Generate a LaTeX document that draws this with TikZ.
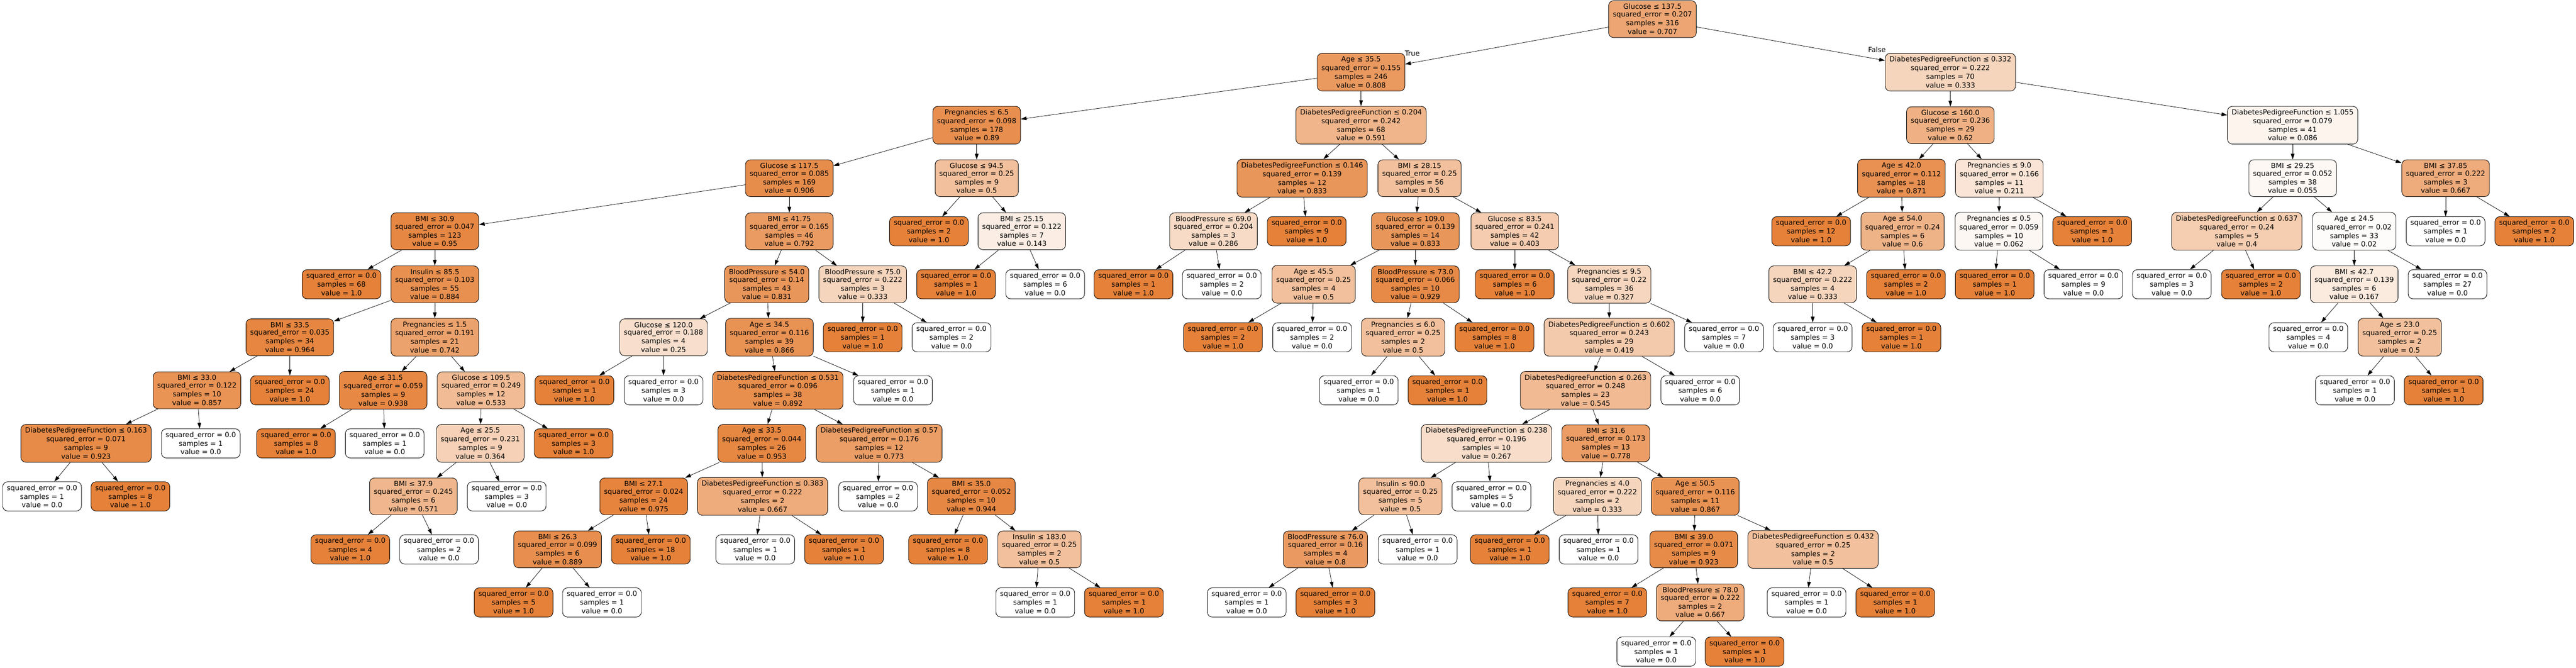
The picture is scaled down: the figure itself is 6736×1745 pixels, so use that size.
\documentclass[tikz,border=0pt]{standalone}
\usepackage{fontspec}
\setmainfont{DejaVu Sans}
\usetikzlibrary{arrows.meta}
\definecolor{tor}{RGB}{229,129,57}
\newcommand\nodeline[1]{\rule[-1.7pt]{0pt}{10pt}#1}
\newcommand\splitbox[5]{\nodeline{#1 ≤ #2}\\\nodeline{squared\_error = #3}\\\nodeline{samples = #4}\\\nodeline{value = #5}}
\newcommand\leafbox[2]{\nodeline{squared\_error = 0.0}\\\nodeline{samples = #1}\\\nodeline{value = #2}}
\newcommand\dpf{DiabetesPedigreeFunction}
\begin{document}
\begin{tikzpicture}[x=0.5pt,y=-0.5pt,
  nd/.style={draw=black,line width=0.6pt,rounded corners=6.5pt,inner xsep=5.5pt,inner ysep=2.75pt,align=center,font=\fontsize{9.17pt}{10pt}\selectfont},
  fv/.style={fill=tor!#1!white},
  edge/.style={line width=0.5pt,-{Triangle[length=7.5pt,width=4.8pt]}},
  lbl/.style={font=\fontsize{9.17pt}{10pt}\selectfont,inner sep=0pt}]
\useasboundingbox[fill=white] (0,0) rectangle (6736,1745);
% rank 0
\node[nd,fv=70.7] (n0) at (4321,50) {\splitbox{Glucose}{137.5}{0.207}{316}{0.707}};
% rank 1
\node[nd,fv=80.8] (n1) at (3559,188.6) {\splitbox{Age}{35.5}{0.155}{246}{0.808}};
\node[nd,fv=33.3] (n2) at (5100,188.6) {\splitbox{\dpf}{0.332}{0.222}{70}{0.333}};
% rank 2
\node[nd,fv=89] (n3) at (2554,327.2) {\splitbox{Pregnancies}{6.5}{0.098}{178}{0.89}};
\node[nd,fv=59.1] (n4) at (3559,327.2) {\splitbox{\dpf}{0.204}{0.242}{68}{0.591}};
\node[nd,fv=62] (n5) at (5100,327.2) {\splitbox{Glucose}{160.0}{0.236}{29}{0.62}};
\node[nd,fv=8.6] (n6) at (5995,327.2) {\splitbox{\dpf}{1.055}{0.079}{41}{0.086}};
% rank 3
\node[nd,fv=90.6] (n7) at (2064,465.8) {\splitbox{Glucose}{117.5}{0.085}{169}{0.906}};
\node[nd,fv=50] (n8) at (2554,465.8) {\splitbox{Glucose}{94.5}{0.25}{9}{0.5}};
\node[nd,fv=83.3] (n9) at (3405,465.8) {\splitbox{\dpf}{0.146}{0.139}{12}{0.833}};
\node[nd,fv=50] (n10) at (3712,465.8) {\splitbox{BMI}{28.15}{0.25}{56}{0.5}};
\node[nd,fv=87.1] (n11) at (4972,465.8) {\splitbox{Age}{42.0}{0.112}{18}{0.871}};
\node[nd,fv=21.1] (n12) at (5228,465.8) {\splitbox{Pregnancies}{9.0}{0.166}{11}{0.211}};
\node[nd,fv=5.5] (n13) at (5995,465.8) {\splitbox{BMI}{29.25}{0.052}{38}{0.055}};
\node[nd,fv=66.7] (n14) at (6395,465.8) {\splitbox{BMI}{37.85}{0.222}{3}{0.667}};
% rank 4
\node[nd,fv=95] (n15) at (1137,604.4) {\splitbox{BMI}{30.9}{0.047}{123}{0.95}};
\node[nd,fv=79.2] (n16) at (2064,604.4) {\splitbox{BMI}{41.75}{0.165}{46}{0.792}};
\node[nd,fv=100] (n17) at (2429,604.4) {\leafbox{2}{1.0}};
\node[nd,fv=14.3] (n18) at (2672,604.4) {\splitbox{BMI}{25.15}{0.122}{7}{0.143}};
\node[nd,fv=28.6] (n19) at (3173,604.4) {\splitbox{BloodPressure}{69.0}{0.204}{3}{0.286}};
\node[nd,fv=100] (n20) at (3417,604.4) {\leafbox{9}{1.0}};
\node[nd,fv=83.3] (n21) at (3701,604.4) {\splitbox{Glucose}{109.0}{0.139}{14}{0.833}};
\node[nd,fv=40.3] (n22) at (3961,604.4) {\splitbox{Glucose}{83.5}{0.241}{42}{0.403}};
\node[nd,fv=100] (n23) at (4736,604.4) {\leafbox{12}{1.0}};
\node[nd,fv=60] (n24) at (4975,604.4) {\splitbox{Age}{54.0}{0.24}{6}{0.6}};
\node[nd,fv=6.2] (n25) at (5227,604.4) {\splitbox{Pregnancies}{0.5}{0.059}{10}{0.062}};
\node[nd,fv=100] (n26) at (5471,604.4) {\leafbox{1}{1.0}};
\node[nd,fv=40] (n27) at (5849,604.4) {\splitbox{\dpf}{0.637}{0.24}{5}{0.4}};
\node[nd,fv=2] (n28) at (6156,604.4) {\splitbox{Age}{24.5}{0.02}{33}{0.02}};
\node[nd,fv=0] (n29) at (6395,604.4) {\leafbox{1}{0.0}};
\node[nd,fv=100] (n30) at (6627,604.4) {\leafbox{2}{1.0}};
% rank 5
\node[nd,fv=100] (n31) at (893,743) {\leafbox{68}{1.0}};
\node[nd,fv=88.4] (n32) at (1137,743) {\splitbox{Insulin}{85.5}{0.103}{55}{0.884}};
\node[nd,fv=83.1] (n33) at (2005,743) {\splitbox{BloodPressure}{54.0}{0.14}{43}{0.831}};
\node[nd,fv=33.3] (n34) at (2256,743) {\splitbox{BloodPressure}{75.0}{0.222}{3}{0.333}};
\node[nd,fv=100] (n35) at (2500,743) {\leafbox{1}{1.0}};
\node[nd,fv=0] (n36) at (2733,743) {\leafbox{6}{0.0}};
\node[nd,fv=100] (n37) at (2964,743) {\leafbox{1}{1.0}};
\node[nd,fv=0] (n38) at (3195,743) {\leafbox{2}{0.0}};
\node[nd,fv=50] (n39) at (3435,743) {\splitbox{Age}{45.5}{0.25}{4}{0.5}};
\node[nd,fv=92.9] (n40) at (3701,743) {\splitbox{BloodPressure}{73.0}{0.066}{10}{0.929}};
\node[nd,fv=100] (n41) at (3961,743) {\leafbox{6}{1.0}};
\node[nd,fv=32.7] (n42) at (4208,743) {\splitbox{Pregnancies}{9.5}{0.22}{36}{0.327}};
\node[nd,fv=33.3] (n43) at (4740,743) {\splitbox{BMI}{42.2}{0.222}{4}{0.333}};
\node[nd,fv=100] (n44) at (4984,743) {\leafbox{2}{1.0}};
\node[nd,fv=100] (n45) at (5216,743) {\leafbox{1}{1.0}};
\node[nd,fv=0] (n46) at (5448,743) {\leafbox{9}{0.0}};
\node[nd,fv=0] (n47) at (5679,743) {\leafbox{3}{0.0}};
\node[nd,fv=100] (n48) at (5912,743) {\leafbox{2}{1.0}};
\node[nd,fv=16.7] (n49) at (6156,743) {\splitbox{BMI}{42.7}{0.139}{6}{0.167}};
\node[nd,fv=0] (n50) at (6400,743) {\leafbox{27}{0.0}};
% rank 6
\node[nd,fv=96.4] (n51) at (758,881.6) {\splitbox{BMI}{33.5}{0.035}{34}{0.964}};
\node[nd,fv=74.2] (n52) at (1137,881.6) {\splitbox{Pregnancies}{1.5}{0.191}{21}{0.742}};
\node[nd,fv=25] (n53) at (1735,881.6) {\splitbox{Glucose}{120.0}{0.188}{4}{0.25}};
\node[nd,fv=86.6] (n54) at (2012,881.6) {\splitbox{Age}{34.5}{0.116}{39}{0.866}};
\node[nd,fv=100] (n55) at (2256,881.6) {\leafbox{1}{1.0}};
\node[nd,fv=0] (n56) at (2488,881.6) {\leafbox{2}{0.0}};
\node[nd,fv=100] (n57) at (3198,881.6) {\leafbox{2}{1.0}};
\node[nd,fv=0] (n58) at (3431,881.6) {\leafbox{2}{0.0}};
\node[nd,fv=50] (n59) at (3669,881.6) {\splitbox{Pregnancies}{6.0}{0.25}{2}{0.5}};
\node[nd,fv=100] (n60) at (3908,881.6) {\leafbox{8}{1.0}};
\node[nd,fv=41.9] (n61) at (4208,881.6) {\splitbox{\dpf}{0.602}{0.243}{29}{0.419}};
\node[nd,fv=0] (n62) at (4508,881.6) {\leafbox{7}{0.0}};
\node[nd,fv=0] (n63) at (4740,881.6) {\leafbox{3}{0.0}};
\node[nd,fv=100] (n64) at (4972,881.6) {\leafbox{1}{1.0}};
\node[nd,fv=0] (n65) at (6036,881.6) {\leafbox{4}{0.0}};
\node[nd,fv=50] (n66) at (6275,881.6) {\splitbox{Age}{23.0}{0.25}{2}{0.5}};
% rank 7
\node[nd,fv=85.7] (n67) at (515,1020.2) {\splitbox{BMI}{33.0}{0.122}{10}{0.857}};
\node[nd,fv=100] (n68) at (758,1020.2) {\leafbox{24}{1.0}};
\node[nd,fv=93.8] (n69) at (1002,1020.2) {\splitbox{Age}{31.5}{0.059}{9}{0.938}};
\node[nd,fv=53.3] (n70) at (1258,1020.2) {\splitbox{Glucose}{109.5}{0.249}{12}{0.533}};
\node[nd,fv=100] (n71) at (1502,1020.2) {\leafbox{1}{1.0}};
\node[nd,fv=0] (n72) at (1735,1020.2) {\leafbox{3}{0.0}};
\node[nd,fv=89.2] (n73) at (2034,1020.2) {\splitbox{\dpf}{0.531}{0.096}{38}{0.892}};
\node[nd,fv=0] (n74) at (2335,1020.2) {\leafbox{1}{0.0}};
\node[nd,fv=0] (n75) at (3553,1020.2) {\leafbox{1}{0.0}};
\node[nd,fv=100] (n76) at (3785,1020.2) {\leafbox{1}{1.0}};
\node[nd,fv=54.5] (n77) at (4146,1020.2) {\splitbox{\dpf}{0.263}{0.248}{23}{0.545}};
\node[nd,fv=0] (n78) at (4446,1020.2) {\leafbox{6}{0.0}};
\node[nd,fv=0] (n79) at (6158,1020.2) {\leafbox{1}{0.0}};
\node[nd,fv=100] (n80) at (6390,1020.2) {\leafbox{1}{1.0}};
% rank 8
\node[nd,fv=92.3] (n81) at (225,1158.8) {\splitbox{\dpf}{0.163}{0.071}{9}{0.923}};
\node[nd,fv=0] (n82) at (525,1158.8) {\leafbox{1}{0.0}};
\node[nd,fv=100] (n83) at (774,1158.8) {\leafbox{8}{1.0}};
\node[nd,fv=0] (n84) at (1006,1158.8) {\leafbox{1}{0.0}};
\node[nd,fv=36.4] (n85) at (1256,1158.8) {\splitbox{Age}{25.5}{0.231}{9}{0.364}};
\node[nd,fv=100] (n86) at (1500,1158.8) {\leafbox{3}{1.0}};
\node[nd,fv=95.3] (n87) at (1992,1158.8) {\splitbox{Age}{33.5}{0.044}{26}{0.953}};
\node[nd,fv=77.3] (n88) at (2299,1158.8) {\splitbox{\dpf}{0.57}{0.176}{12}{0.773}};
\node[nd,fv=26.7] (n89) at (3887,1158.8) {\splitbox{\dpf}{0.238}{0.196}{10}{0.267}};
\node[nd,fv=77.8] (n90) at (4199,1158.8) {\splitbox{BMI}{31.6}{0.173}{13}{0.778}};
% rank 9
\node[nd,fv=0] (n91) at (110,1297.4) {\leafbox{1}{0.0}};
\node[nd,fv=100] (n92) at (341,1297.4) {\leafbox{8}{1.0}};
\node[nd,fv=57.1] (n93) at (1081,1297.4) {\splitbox{BMI}{37.9}{0.245}{6}{0.571}};
\node[nd,fv=0] (n94) at (1325,1297.4) {\leafbox{3}{0.0}};
\node[nd,fv=97.5] (n95) at (1683,1297.4) {\splitbox{BMI}{27.1}{0.024}{24}{0.975}};
\node[nd,fv=66.7] (n96) at (1994,1297.4) {\splitbox{\dpf}{0.383}{0.222}{2}{0.667}};
\node[nd,fv=0] (n97) at (2296,1297.4) {\leafbox{2}{0.0}};
\node[nd,fv=94.4] (n98) at (2540,1297.4) {\splitbox{BMI}{35.0}{0.052}{10}{0.944}};
\node[nd,fv=50] (n99) at (3662,1297.4) {\splitbox{Insulin}{90.0}{0.25}{5}{0.5}};
\node[nd,fv=0] (n100) at (3900,1297.4) {\leafbox{5}{0.0}};
\node[nd,fv=33.3] (n101) at (4177,1297.4) {\splitbox{Pregnancies}{4.0}{0.222}{2}{0.333}};
\node[nd,fv=86.7] (n102) at (4433,1297.4) {\splitbox{Age}{50.5}{0.116}{11}{0.867}};
% rank 10
\node[nd,fv=100] (n103) at (916,1436) {\leafbox{4}{1.0}};
\node[nd,fv=0] (n104) at (1148,1436) {\leafbox{2}{0.0}};
\node[nd,fv=88.9] (n105) at (1458,1436) {\splitbox{BMI}{26.3}{0.099}{6}{0.889}};
\node[nd,fv=100] (n106) at (1702,1436) {\leafbox{18}{1.0}};
\node[nd,fv=0] (n107) at (1975,1436) {\leafbox{1}{0.0}};
\node[nd,fv=100] (n108) at (2207,1436) {\leafbox{1}{1.0}};
\node[nd,fv=100] (n109) at (2479,1436) {\leafbox{8}{1.0}};
\node[nd,fv=50] (n110) at (2718,1436) {\splitbox{Insulin}{183.0}{0.25}{2}{0.5}};
\node[nd,fv=80] (n111) at (3466,1436) {\splitbox{BloodPressure}{76.0}{0.16}{4}{0.8}};
\node[nd,fv=0] (n112) at (3707,1436) {\leafbox{1}{0.0}};
\node[nd,fv=100] (n113) at (3948,1436) {\leafbox{1}{1.0}};
\node[nd,fv=0] (n114) at (4180,1436) {\leafbox{1}{0.0}};
\node[nd,fv=92.3] (n115) at (4429,1436) {\splitbox{BMI}{39.0}{0.071}{9}{0.923}};
\node[nd,fv=50] (n116) at (4741,1436) {\splitbox{\dpf}{0.432}{0.25}{2}{0.5}};
% rank 11
\node[nd,fv=100] (n117) at (1343,1574.6) {\leafbox{5}{1.0}};
\node[nd,fv=0] (n118) at (1574,1574.6) {\leafbox{1}{0.0}};
\node[nd,fv=0] (n119) at (2707,1574.6) {\leafbox{1}{0.0}};
\node[nd,fv=100] (n120) at (2939,1574.6) {\leafbox{1}{1.0}};
\node[nd,fv=0] (n121) at (3260,1574.6) {\leafbox{1}{0.0}};
\node[nd,fv=100] (n122) at (3492,1574.6) {\leafbox{3}{1.0}};
\node[nd,fv=100] (n123) at (4203,1574.6) {\leafbox{7}{1.0}};
\node[nd,fv=66.7] (n124) at (4446,1574.6) {\splitbox{BloodPressure}{78.0}{0.222}{2}{0.667}};
\node[nd,fv=0] (n125) at (4724,1574.6) {\leafbox{1}{0.0}};
\node[nd,fv=100] (n126) at (4956,1574.6) {\leafbox{1}{1.0}};
% rank 12
\node[nd,fv=0] (n127) at (4331,1703) {\leafbox{1}{0.0}};
\node[nd,fv=100] (n128) at (4562,1703) {\leafbox{1}{1.0}};
% edges
\foreach \a/\b in {n0/n1,n0/n2,n1/n3,n1/n4,n2/n5,n2/n6,n3/n7,n3/n8,n4/n9,n4/n10,
  n5/n11,n5/n12,n6/n13,n6/n14,n7/n15,n7/n16,n8/n17,n8/n18,n9/n19,n9/n20,
  n10/n21,n10/n22,n11/n23,n11/n24,n12/n25,n12/n26,n13/n27,n13/n28,n14/n29,n14/n30,
  n15/n31,n15/n32,n16/n33,n16/n34,n18/n35,n18/n36,n19/n37,n19/n38,n21/n39,n21/n40,
  n22/n41,n22/n42,n24/n43,n24/n44,n25/n45,n25/n46,n27/n47,n27/n48,n28/n49,n28/n50,
  n32/n51,n32/n52,n33/n53,n33/n54,n34/n55,n34/n56,n39/n57,n39/n58,n40/n59,n40/n60,
  n42/n61,n42/n62,n43/n63,n43/n64,n49/n65,n49/n66,n51/n67,n51/n68,n52/n69,n52/n70,
  n53/n71,n53/n72,n54/n73,n54/n74,n59/n75,n59/n76,n61/n77,n61/n78,n66/n79,n66/n80,
  n67/n81,n67/n82,n69/n83,n69/n84,n70/n85,n70/n86,n73/n87,n73/n88,n77/n89,n77/n90,
  n81/n91,n81/n92,n85/n93,n85/n94,n87/n95,n87/n96,n88/n97,n88/n98,n89/n99,n89/n100,
  n90/n101,n90/n102,n93/n103,n93/n104,n95/n105,n95/n106,n96/n107,n96/n108,n98/n109,n98/n110,
  n99/n111,n99/n112,n101/n113,n101/n114,n102/n115,n102/n116,n105/n117,n105/n118,n110/n119,n110/n120,
  n111/n121,n111/n122,n115/n123,n115/n124,n116/n125,n116/n126,n124/n127,n124/n128}
  \draw[edge] (\a) -- (\b);
\node[lbl] (lt) at (3693,139) {True};
\node[lbl] (lf) at (4908,130) {False};
\end{tikzpicture}
\end{document}
